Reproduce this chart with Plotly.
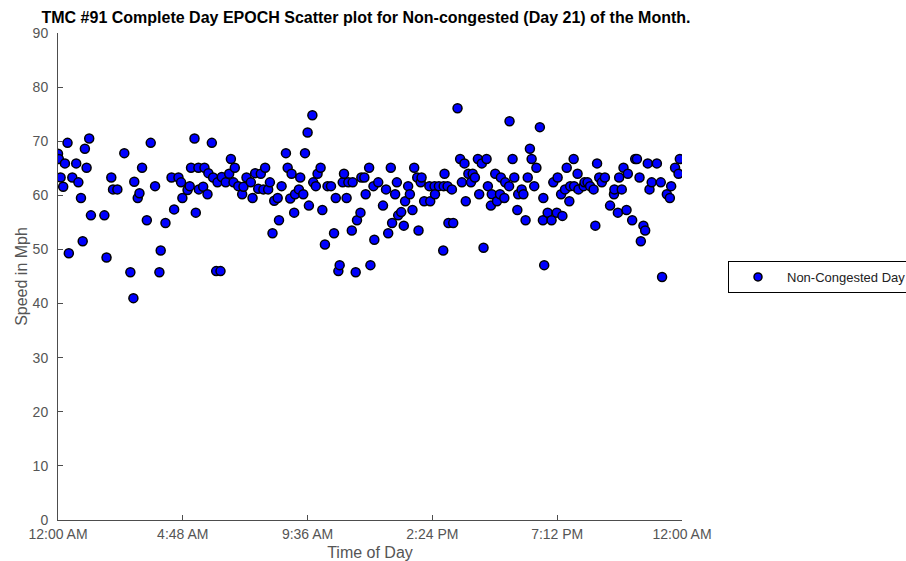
import plotly.graph_objects as go

# Epoch start times (minutes after midnight) and observed speeds (mph)
minutes = [
    0, 2, 6, 12, 16, 22, 25, 33, 42, 47, 53, 57, 62, 66, 72, 76, 107, 112, 123, 127,
    137, 153, 167, 174, 176, 184, 188, 194, 205, 214, 224, 234, 237, 248, 262, 268, 278, 284, 287,
    299, 304, 307, 315, 318, 324, 325, 335, 338, 345, 347, 355, 358, 365, 368, 375, 378, 387,
    395, 399, 405, 408, 416, 425, 428, 435, 445, 449, 455, 462, 468, 474, 478, 485, 489, 495,
    499, 507, 510, 516, 526, 530, 536, 539, 545, 547, 556, 559, 566,
    570, 576, 587, 579, 589, 595, 599, 606, 610, 616, 622, 630, 637, 641, 647, 650, 657, 660,
    666, 670, 678, 680, 687, 690, 698, 700, 707, 710, 718, 721, 728, 730, 739, 750, 757, 762,
    768, 771, 778, 782, 785, 792, 798, 801, 808, 812, 818, 822, 829, 832, 837, 839, 845,
    857, 859, 869, 870, 879, 889, 892, 890, 899, 901, 909, 912, 922, 928, 932, 938, 941, 947,
    953, 957, 962, 969, 972, 978, 982, 989, 992, 999, 1001, 1009, 1013, 1020, 1022, 1030, 1032,
    1041, 1042, 1049, 1053, 1060, 1062, 1070, 1074, 1079, 1084, 1089, 1093, 1099, 1104, 1112,
    1120, 1119, 1122,
    1130, 1139, 1143, 1151, 1153, 1161, 1164, 1170, 1174, 1180, 1182, 1190, 1191, 1199, 1201,
    1213, 1215, 1222, 1228, 1236, 1240, 1244, 1249, 1255, 1262, 1274, 1283, 1284, 1292, 1295,
    1301, 1305, 1312, 1315, 1325, 1332, 1336, 1342, 1345, 1351, 1355, 1361, 1365, 1370, 1382,
    1391, 1394, 1405, 1412, 1415, 1424, 1432, 1435,
]
speed_mph = [
    67.7, 66.7, 63.3, 61.6, 65.9, 69.7, 49.3, 63.3, 65.9, 62.4, 59.5, 51.5, 68.6, 65.1, 70.5, 56.3, 56.3, 48.5, 63.3, 61.1,
    61.1, 67.8, 45.8, 41.0, 62.5, 59.5, 60.4, 65.1, 55.4, 69.7, 61.7, 45.8, 49.8, 54.9, 63.3, 57.4, 63.3, 62.4, 59.5,
    61.0, 61.7, 65.1, 70.5, 56.8, 65.1, 61.1, 61.6, 65.1, 60.2, 64.1, 69.7, 63.3, 46.0, 62.4, 46.0, 63.4, 62.4,
    64.0, 66.7, 62.4, 65.1, 61.7, 60.2, 61.6, 63.3, 62.4, 59.5, 64.1, 61.2, 64.0, 61.1, 65.1, 61.1, 62.4, 53.0,
    59.0, 59.5, 55.4, 61.7, 67.8, 65.1, 59.4, 64.0, 56.8, 60.2, 61.1, 63.3, 60.2,
    67.8, 71.6, 74.8, 58.1, 62.4, 61.7, 64.0, 65.1, 57.3, 50.9, 61.7, 61.7, 53.0, 59.5, 46.0, 47.1, 62.4, 64.0,
    59.5, 62.4, 53.5, 62.4, 45.8, 55.4, 56.8, 63.3, 63.3, 60.2, 65.1, 47.1, 61.7, 51.8, 62.4, 58.1, 61.1, 53.0,
    65.1, 54.9, 60.2, 62.4, 56.3, 56.9, 54.4, 58.9, 61.7, 60.2, 57.3, 65.1, 63.3, 53.5, 62.4, 63.3, 58.9,
    61.7, 58.9, 61.7, 60.2, 61.7, 49.8, 64.0, 61.7, 61.7, 54.9, 61.1, 54.9, 76.1, 66.7, 62.4, 65.9, 58.9, 64.0,
    62.4, 64.0, 63.3, 66.7, 60.2, 65.9, 50.3, 66.7, 61.7, 58.1, 60.2, 64.0, 58.9, 60.2, 63.3, 59.5, 62.4,
    61.7, 73.7, 66.7, 63.3, 57.3, 60.2, 61.1, 60.2, 55.4, 63.3, 68.6, 66.7, 61.7, 65.1, 72.6,
    59.5, 55.4, 47.1,
    56.8, 55.4, 62.4, 56.8, 63.3, 60.2, 56.2, 61.1, 65.1, 58.9, 61.7, 66.7, 61.7, 64.0, 61.1,
    61.7, 62.4, 62.4, 61.7, 61.1, 54.4, 65.9, 63.3, 62.4, 63.3, 58.1, 60.2, 61.1, 56.8, 63.3,
    61.1, 65.1, 57.3, 64.0, 55.4, 66.7, 66.7, 63.3, 51.5, 54.4, 53.5, 65.9, 61.1, 62.4, 65.9,
    62.4, 44.9, 60.2, 59.5, 61.7, 65.1, 64.0, 66.7,
]

tick_minutes = [0, 288, 576, 864, 1152, 1440]
tick_labels = ["12:00 AM", "4:48 AM", "9:36 AM", "2:24 PM", "7:12 PM", "12:00 AM"]
y_ticks = [0, 10, 20, 30, 40, 50, 60, 70, 80, 90]

FONT = "Arial, Liberation Sans, sans-serif"
AXIS_GREY = "#4d4d4d"
LABEL_GREY = "#555555"

fig = go.Figure()
fig.add_trace(go.Scatter(
    x=minutes, y=speed_mph, mode="markers", showlegend=False,
    marker=dict(size=9, color="#0000ff", line=dict(color="#000000", width=1.5)),
))
# legend entry with a slightly smaller symbol
fig.add_trace(go.Scatter(
    x=[None], y=[None], mode="markers", name="Non-Congested Day",
    marker=dict(size=8, color="#0000ff", line=dict(color="#000000", width=1.5)),
))

fig.update_layout(
    width=906, height=561,
    margin=dict(l=58, r=224, t=33, b=41, autoexpand=False),
    paper_bgcolor="white", plot_bgcolor="white",
    title=dict(
        text="<b>TMC #91 Complete Day EPOCH Scatter plot for Non-congested (Day 21) of the Month.</b>",
        font=dict(family=FONT, size=16, color="#000000"),
        x=366 / 906, xref="container", xanchor="center",
        y=1 - 17 / 561, yref="container", yanchor="middle",
    ),
    legend=dict(
        x=(728 - 58) / 624, y=(520 - 261) / 487, xanchor="left", yanchor="top",
        bordercolor="#000000", borderwidth=1, bgcolor="white",
        font=dict(family=FONT, size=13, color="#222222"),
        itemwidth=48,
    ),
    xaxis=dict(
        range=[0, 1440], tickmode="array", tickvals=tick_minutes, ticktext=tick_labels,
        showgrid=False, zeroline=False, showline=True, linecolor=AXIS_GREY, linewidth=1,
        ticks="inside", ticklen=5, tickcolor=AXIS_GREY,
        tickfont=dict(family=FONT, size=14, color=LABEL_GREY),
        ticklabelstandoff=1,
        title=dict(text="Time of Day", font=dict(family=FONT, size=16, color=LABEL_GREY), standoff=12),
    ),
    yaxis=dict(
        range=[0, 90], tickmode="array", tickvals=y_ticks,
        showgrid=False, zeroline=False, showline=True, linecolor=AXIS_GREY, linewidth=1,
        ticks="inside", ticklen=5, tickcolor=AXIS_GREY,
        tickfont=dict(family=FONT, size=14, color=LABEL_GREY),
        ticklabelstandoff=6,
        title=dict(text="Speed in Mph", font=dict(family=FONT, size=16, color=LABEL_GREY), standoff=1),
    ),
)

fig.write_html("out.html")
